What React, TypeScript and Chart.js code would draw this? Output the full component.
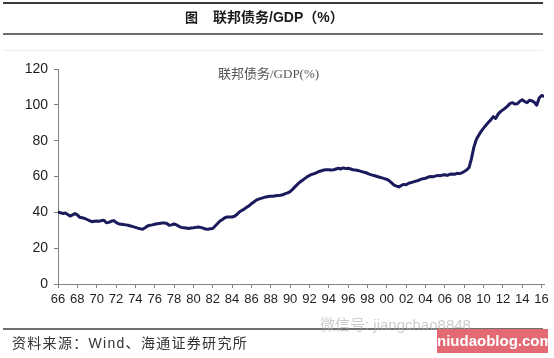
import React, { useEffect, useRef } from "react";
import { Chart, registerables } from "chart.js";

Chart.register(...registerables);

const startYear = 1966;
const periodsPerYear = 4;

// Federal debt / GDP (%), quarterly, 1966Q1 - 2016Q2
const debtToGdp: number[] = [
  40.0, 39.8, 39.4, 39.6, // 1966
  38.8, 37.9, 38.6, 39.3, // 1967
  38.6, 37.2, 37.0, 36.6, // 1968
  36.0, 35.4, 34.8, 35.0, // 1969
  35.2, 35.0, 35.4, 35.6, // 1970
  34.2, 34.4, 35.0, 35.4, // 1971
  34.4, 33.6, 33.4, 33.2, // 1972
  33.0, 32.8, 32.4, 32.0, // 1973
  31.6, 31.2, 30.8, 30.6, // 1974
  31.4, 32.4, 32.8, 33.0, // 1975
  33.3, 33.6, 33.8, 34.0, // 1976
  34.1, 33.8, 32.8, 33.0, // 1977
  33.5, 33.0, 32.2, 31.6, // 1978
  31.4, 31.2, 31.0, 31.3, // 1979
  31.4, 31.6, 31.8, 31.6, // 1980
  31.2, 30.7, 30.6, 30.8, // 1981
  31.0, 32.4, 33.8, 35.2, // 1982
  36.0, 37.0, 37.4, 37.4, // 1983
  37.4, 37.8, 38.8, 40.2, // 1984
  41.0, 41.8, 42.8, 43.6, // 1985
  44.8, 45.8, 46.8, 47.4, // 1986
  47.8, 48.2, 48.6, 48.8, // 1987
  49.0, 49.0, 49.2, 49.4, // 1988
  49.5, 49.8, 50.4, 50.9, // 1989
  51.6, 52.8, 54.2, 55.6, // 1990
  56.8, 57.8, 58.8, 59.8, // 1991
  60.6, 61.2, 61.6, 62.2, // 1992
  62.8, 63.2, 63.6, 63.8, // 1993
  63.8, 63.6, 63.8, 64.2, // 1994
  64.6, 64.2, 64.8, 64.4, // 1995
  64.6, 64.2, 63.8, 63.6, // 1996
  63.4, 63.0, 62.6, 62.2, // 1997
  61.8, 61.2, 60.8, 60.4, // 1998
  60.0, 59.6, 59.2, 58.8, // 1999
  58.4, 57.6, 56.4, 55.2, // 2000
  54.6, 54.2, 55.0, 55.6, // 2001
  55.4, 56.2, 56.6, 57.0, // 2002
  57.4, 57.8, 58.4, 58.8, // 2003
  59.0, 59.6, 60.0, 59.8, // 2004
  60.2, 60.6, 60.4, 60.8, // 2005
  61.0, 60.6, 61.2, 61.4, // 2006
  61.2, 61.8, 61.6, 62.0, // 2007
  62.8, 63.6, 65.0, 70.0, // 2008
  76.4, 80.6, 83.0, 85.2, // 2009
  87.0, 88.6, 90.2, 91.6, // 2010
  93.4, 92.4, 94.8, 96.2, // 2011
  97.2, 98.2, 99.4, 100.8, // 2012
  101.2, 100.4, 100.6, 102.0, // 2013
  102.8, 101.8, 101.2, 102.6, // 2014
  102.2, 101.4, 99.8, 103.8, // 2015
  105.2, 104.8, // 2016
];

const tickYears = [
  1966, 1968, 1970, 1972, 1974, 1976, 1978, 1980, 1982, 1984, 1986, 1988, 1990,
  1992, 1994, 1996, 1998, 2000, 2002, 2004, 2006, 2008, 2010, 2012, 2014, 2016,
];
const tickLabels = [
  "66", "68", "70", "72", "74", "76", "78", "80", "82", "84", "86", "88", "90",
  "92", "94", "96", "98", "00", "02", "04", "06", "08", "10", "12", "14", "16",
];
const yTicks = [0, 20, 40, 60, 80, 100, 120];

const figureTitle = "联邦债务/GDP（%）";
const figureLabel = "图";
const seriesTitle = "联邦债务/GDP(%)";
const sourceText = "资料来源：Wind、海通证券研究所";
const watermarkText = "微信号: jiangchao8848";
const watermarkSite = "niudaoblog.com";

const tickFamily =
  "'Liberation Sans Narrow', 'Arial Narrow', 'Liberation Sans', Arial, sans-serif";

export default function App() {
  const canvasRef = useRef<HTMLCanvasElement | null>(null);

  useEffect(() => {
    if (!canvasRef.current) return;
    const points = debtToGdp.map((v, i) => ({
      x: startYear + i / periodsPerYear,
      y: v,
    }));
    const chart = new Chart(canvasRef.current, {
      type: "line",
      data: {
        datasets: [
          {
            label: seriesTitle,
            data: points,
            borderColor: "#1b1a5c",
            borderWidth: 3,
            pointRadius: 0,
            tension: 0,
            borderJoinStyle: "round",
            borderCapStyle: "round",
          },
        ],
      },
      options: {
        animation: false,
        responsive: false,
        maintainAspectRatio: false,
        events: [],
        layout: { padding: { top: 69, right: 10, left: 0, bottom: 0 } },
        plugins: { legend: { display: false }, tooltip: { enabled: false } },
        scales: {
          x: {
            type: "linear",
            min: 1966,
            max: 2016.25,
            afterBuildTicks: (scale: any) => {
              scale.ticks = tickYears.map((v) => ({ value: v }));
            },
            afterFit: (scale: any) => {
              scale.height = 74;
            },
            border: { display: true, color: "#808080", width: 1 },
            grid: {
              display: true,
              drawOnChartArea: false,
              drawTicks: true,
              tickLength: 4,
              color: "#808080",
            },
            ticks: {
              autoSkip: false,
              maxRotation: 0,
              padding: 4,
              color: "#1e1e1e",
              font: { family: tickFamily, size: 13 },
              callback: (_v: any, idx: number) => tickLabels[idx],
            },
          },
          y: {
            type: "linear",
            min: 0,
            max: 120,
            afterBuildTicks: (scale: any) => {
              scale.ticks = yTicks.map((v) => ({ value: v }));
            },
            afterFit: (scale: any) => {
              scale.width = 58;
            },
            border: { display: true, color: "#808080", width: 1 },
            grid: {
              display: true,
              drawOnChartArea: false,
              drawTicks: true,
              tickLength: 4,
              color: "#808080",
            },
            ticks: {
              padding: 6,
              color: "#1e1e1e",
              font: { family: tickFamily, size: 14 },
            },
          },
        },
      },
    });
    return () => chart.destroy();
  }, []);

  const line = (top: number, color: string, h: number): React.CSSProperties => ({
    position: "absolute",
    left: 3,
    width: 540,
    top,
    height: h,
    background: color,
  });

  return (
    <div
      style={{
        position: "fixed",
        left: 0,
        top: 0,
        width: 554,
        height: 358,
        background: "#ffffff",
        overflow: "hidden",
      }}
    >
      <canvas
        ref={canvasRef}
        width={554}
        height={358}
        style={{ position: "absolute", left: 0, top: 0, width: 554, height: 358 }}
      />
      <div style={line(2, "#3a3a3a", 2)} />
      <div style={line(33, "#6e6e6e", 2)} />
      <div style={line(50, "#eeeeee", 1)} />
      <div style={line(328, "#707070", 2)} />
      <div
        style={{
          position: "absolute",
          left: 185,
          top: 8,
          fontFamily: "'Noto Sans CJK SC', sans-serif",
          fontWeight: 700,
          fontSize: 13,
          lineHeight: "18px",
          color: "#1a1a1a",
        }}
      >
        {figureLabel}
      </div>
      <div
        style={{
          position: "absolute",
          left: 213,
          top: 8,
          fontFamily: "'Liberation Sans', Arial, 'Noto Sans CJK SC', sans-serif",
          fontWeight: 700,
          fontSize: 14,
          lineHeight: "18px",
          color: "#1a1a1a",
          whiteSpace: "nowrap",
        }}
      >
        {figureTitle}
      </div>
      <div
        style={{
          position: "absolute",
          left: 218,
          top: 65,
          fontFamily: "'Liberation Serif', 'DejaVu Serif', 'Noto Sans CJK SC', serif",
          fontSize: 13,
          lineHeight: "18px",
          color: "#555555",
          whiteSpace: "nowrap",
        }}
      >
        {seriesTitle}
      </div>
      <div
        style={{
          position: "absolute",
          left: 12,
          top: 333,
          fontFamily: "'Liberation Sans', Arial, 'Noto Sans CJK SC', sans-serif",
          fontSize: 14,
          lineHeight: "20px",
          letterSpacing: 1.3,
          color: "#333333",
          whiteSpace: "nowrap",
        }}
      >
        {sourceText}
      </div>
      <div
        style={{
          position: "absolute",
          left: 320,
          top: 316,
          fontFamily: "'Liberation Sans', Arial, 'Noto Sans CJK SC', sans-serif",
          fontSize: 15,
          lineHeight: "18px",
          color: "rgba(170,170,170,0.6)",
          whiteSpace: "nowrap",
        }}
      >
        {watermarkText}
      </div>
      <div
        style={{
          position: "absolute",
          left: 437,
          top: 329,
          width: 111,
          height: 24,
          background: "#e36a73",
          color: "#ffffff",
          fontFamily: "'Liberation Sans', Arial, sans-serif",
          fontWeight: 700,
          fontSize: 15,
          lineHeight: "24px",
          textAlign: "center",
          whiteSpace: "nowrap",
        }}
      >
        {watermarkSite}
      </div>
    </div>
  );
}
